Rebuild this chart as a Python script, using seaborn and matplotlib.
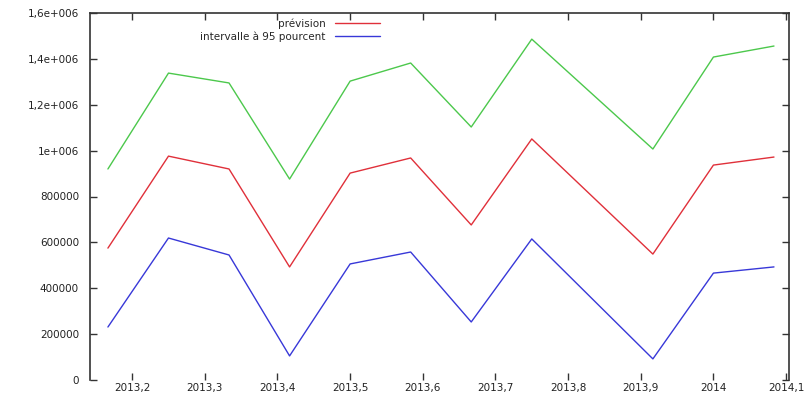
import matplotlib
matplotlib.use("Agg")
import matplotlib.pyplot as plt
import seaborn as sns
import pandas as pd
from matplotlib.lines import Line2D

sns.set_theme(style="white")
plt.rcParams['font.family'] = ['DejaVu Sans']

# monthly dates (decimal years); 2013.833 missing in the reference
dates = [2013 + 2/12, 2013 + 3/12, 2013 + 4/12, 2013 + 5/12, 2013 + 6/12,
         2013 + 7/12, 2013 + 8/12, 2013 + 9/12, 2013 + 11/12, 2014.0, 2014 + 1/12]
upper = [920000, 1338000, 1295000, 876000, 1303000, 1382000, 1103000, 1486000,
         1007000, 1408000, 1456000]
prevision = [575000, 976000, 920000, 493000, 902000, 968000, 676000, 1051000,
             549000, 937000, 972000]
lower = [231000, 619000, 545000, 105000, 506000, 558000, 253000, 615000,
         92000, 466000, 493000]

xticks = [2013.2, 2013.3, 2013.4, 2013.5, 2013.6, 2013.7, 2013.8, 2013.9, 2014.0, 2014.1]
xticklabels = ["2013,2", "2013,3", "2013,4", "2013,5", "2013,6", "2013,7",
               "2013,8", "2013,9", "2014", "2014,1"]
yticks = [0, 200000, 400000, 600000, 800000, 1000000, 1200000, 1400000, 1600000]
yticklabels = ["0", "200000", "400000", "600000", "800000", "1e+006",
               "1,2e+006", "1,4e+006", "1,6e+006"]

c_green = "#4cc84c"
c_red = "#e0303a"
c_blue = "#3838d8"

df = pd.DataFrame({"date": dates, "upper": upper, "prevision": prevision, "lower": lower})

fig = plt.figure(figsize=(8.09, 3.99), dpi=100)
ax = fig.add_axes([90/809, 1 - 380/399, (789-90)/809, (380-13)/399])

sns.lineplot(data=df, x="date", y="upper", ax=ax, color=c_green, linewidth=1.0)
sns.lineplot(data=df, x="date", y="prevision", ax=ax, color=c_red, linewidth=1.0)
sns.lineplot(data=df, x="date", y="lower", ax=ax, color=c_blue, linewidth=1.0)

ax.set_xlim(2013.142, 2014.104)
ax.set_ylim(0, 1600000)
ax.set_xticks(xticks)
ax.set_xticklabels(xticklabels)
ax.set_yticks(yticks)
ax.set_yticklabels(yticklabels)
ax.set_xlabel("")
ax.set_ylabel("")

ax.tick_params(axis="both", direction="in", length=5, width=1, color="#333333",
               labelsize=7.5, labelcolor="#222222", top=True, right=True,
               bottom=True, left=True)
ax.tick_params(axis="x", pad=2)
ax.tick_params(axis="y", pad=8)
for s in ["left", "top", "right"]:
    ax.spines[s].set_visible(True)
    ax.spines[s].set_color("#333333")
    ax.spines[s].set_linewidth(1.2)
ax.spines["bottom"].set_visible(False)

handles = [Line2D([], [], color=c_red, lw=1.0), Line2D([], [], color=c_blue, lw=1.0)]
leg = ax.legend(handles, ["prévision", "intervalle à 95 pourcent"], loc="upper left",
                bbox_to_anchor=(0.0, 1.0), bbox_transform=ax.transAxes,
                frameon=False, markerfirst=False, fontsize=7.5,
                handlelength=4.3, handletextpad=0.9, labelspacing=0.25,
                borderaxespad=0)
# place legend right edge near x=384px
fig.canvas.draw()
bb = leg.get_window_extent()
dx = (384 - bb.x1) / 809
leg.set_bbox_to_anchor((90/809 + dx, 1 - 14/399), transform=fig.transFigure)
for t in leg.get_texts():
    t.set_ha("right")

fig.savefig("out.png", dpi=100)
